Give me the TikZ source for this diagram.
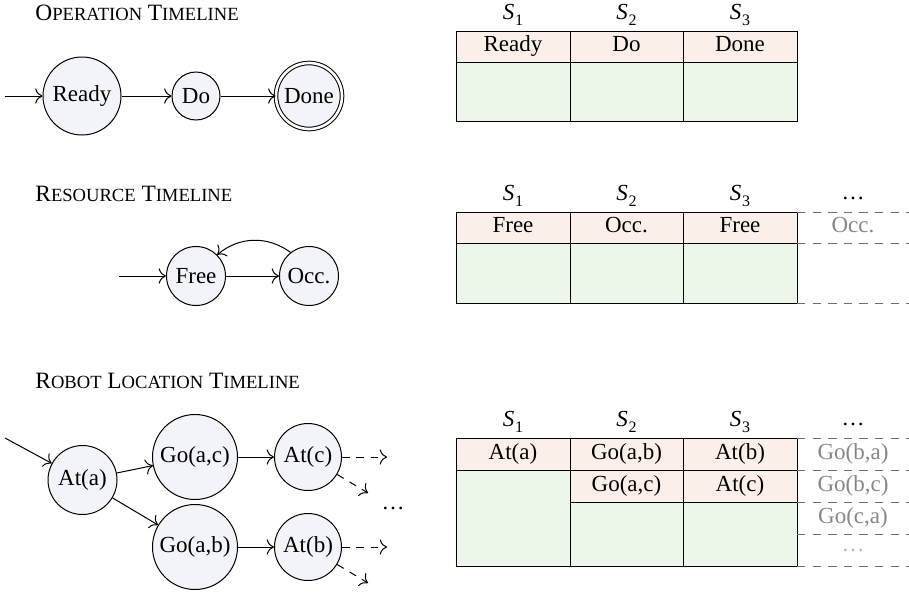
\documentclass[tikz,border=0pt]{standalone}
\usepackage{fontspec}
\setmainfont{Liberation Serif}
\usetikzlibrary{arrows.meta}
\definecolor{peach}{RGB}{251,240,233}
\definecolor{mint}{RGB}{236,247,234}
\definecolor{lav}{RGB}{243,244,250}
\definecolor{ghost}{RGB}{135,135,135}
\definecolor{dashgray}{RGB}{110,110,110}
\newcommand\fsc[1]{{\fontsize{9.3}{10}\selectfont #1}}
\newcommand\bcap[1]{{\fontsize{11.7}{13}\selectfont #1}}
\newcommand\Sl[1]{\textit{S}\kern0.3pt\raisebox{-0.5ex}{\fontsize{8}{9}\selectfont #1}}
\begin{document}
\begin{tikzpicture}[x=0.5pt,y=-0.5pt,
  >={To[scale=1.35]},
  every node/.style={font=\fontsize{11.5}{13}\selectfont},
  state/.style={circle,draw,fill=lav,inner sep=0pt,line width=0.5pt},
  edge/.style={->,line width=0.5pt},
  dedge/.style={->,line width=0.5pt,dash pattern=on 3.8pt off 3.4pt},
  cell/.style={inner sep=0pt,text height=1.5ex,text depth=0.45ex},
  ghostcell/.style={cell,text=ghost},
  title/.style={anchor=base west,inner sep=0pt},
  tline/.style={line width=0.5pt},
  xline/.style={line width=0.5pt,draw=dashgray,dash pattern=on 4.2pt off 3.6pt}
]
\useasboundingbox (0,0) rectangle (909,594);

% ---------------- Operation timeline ----------------
\node[title] (t1) at (35,20) {\bcap{O}\fsc{PERATION} \bcap{T}\fsc{IMELINE}};
\node[state,minimum size=39pt] (ready) at (82,96) {Ready};
\node[state,minimum size=24pt] (do) at (196,96) {Do};
\node[state,minimum size=33pt,double,double distance=1.3pt] (done) at (309,96) {Done};
\coordinate (i1) at (5,96);
\draw[edge] (i1) -- (ready);
\draw[edge] (ready) -- (do);
\draw[edge] (do) -- (done);

\fill[peach] (456,31) rectangle (797,62);
\fill[mint] (456,62) rectangle (797,121);
\draw[tline] (456,31) rectangle (797,121);
\draw[tline] (456,62) -- (797,62);
\draw[tline] (570,31) -- (570,121);
\draw[tline] (683.5,31) -- (683.5,121);
\node (a1) at (513,15) {\Sl{1}};
\node (a2) at (626.5,15) {\Sl{2}};
\node (a3) at (740,15) {\Sl{3}};
\node[cell] (b1) at (513,47) {Ready};
\node[cell] (b2) at (626.5,47) {Do};
\node[cell] (b3) at (740,47) {Done};

% ---------------- Resource timeline ----------------
\node[title] (t2) at (35,201) {\bcap{R}\fsc{ESOURCE} \bcap{T}\fsc{IMELINE}};
\node[state,minimum size=29.5pt] (free) at (196,276) {Free};
\node[state,minimum size=29.5pt] (occ) at (309,276) {Occ.};
\coordinate (i2) at (119,276);
\draw[edge] (i2) -- (free);
\draw[edge] (free) -- (occ);
\draw[edge] (occ.128) to[bend right=38] (free.45);

\fill[peach] (456,212) rectangle (797,243);
\fill[mint] (456,243) rectangle (797,303);
\draw[tline] (456,212) rectangle (797,303);
\draw[tline] (456,243) -- (797,243);
\draw[tline] (570,212) -- (570,303);
\draw[tline] (683.5,212) -- (683.5,303);
\draw[xline] (797,212) -- (909,212);
\draw[xline] (797,243) -- (909,243);
\draw[xline] (797,303) -- (909,303);
\node (c1) at (513,196) {\Sl{1}};
\node (c2) at (626.5,196) {\Sl{2}};
\node (c3) at (740,196) {\Sl{3}};
\node (c4) at (853,198) {\dots};
\node[cell] (d1) at (513,228) {Free};
\node[cell] (d2) at (626.5,228) {Occ.};
\node[cell] (d3) at (740,228) {Free};
\node[ghostcell] (d4) at (853,228) {Occ.};

% ---------------- Robot location timeline ----------------
\node[title] (t3) at (35,388) {\bcap{R}\fsc{OBOT} \bcap{L}\fsc{OCATION} \bcap{T}\fsc{IMELINE}};
\node[state,minimum size=34.5pt] (ata) at (82.5,480) {At(a)};
\node[state,minimum size=42.5pt] (goac) at (195,457) {Go(a,c)};
\node[state,minimum size=42.5pt] (goab) at (195,547) {Go(a,b)};
\node[state,minimum size=33.5pt] (atc) at (308,457) {At(c)};
\node[state,minimum size=33.5pt] (atb) at (308,547) {At(b)};
\coordinate (i3) at (5,438);
\coordinate (ec1) at (387,457);
\coordinate (ec2) at (368,493);
\coordinate (eb1) at (387,547);
\coordinate (eb2) at (368,583);
\draw[edge] (i3) -- (ata);
\draw[edge] (ata) -- (goac);
\draw[edge] (ata) -- (goab);
\draw[edge] (goac) -- (atc);
\draw[edge] (goab) -- (atb);
\draw[dedge] (atc) -- (ec1);
\draw[dedge] (atc) -- (ec2);
\draw[dedge] (atb) -- (eb1);
\draw[dedge] (atb) -- (eb2);
\node (rdots) at (393,508) {\dots};

\fill[peach] (456,438) rectangle (797,470);
\fill[peach] (570,470) rectangle (797,502);
\fill[mint] (456,470) rectangle (570,566);
\fill[mint] (570,502) rectangle (797,566);
\draw[tline] (456,438) rectangle (797,566);
\draw[tline] (456,470) -- (797,470);
\draw[tline] (570,502) -- (797,502);
\draw[tline] (570,438) -- (570,566);
\draw[tline] (683.5,438) -- (683.5,566);
\draw[xline] (797,438) -- (909,438);
\draw[xline] (797,470) -- (909,470);
\draw[xline] (797,502) -- (909,502);
\draw[xline] (797,534) -- (909,534);
\draw[xline] (797,566) -- (909,566);
\node (e1) at (513,422) {\Sl{1}};
\node (e2) at (626.5,422) {\Sl{2}};
\node (e3) at (740,422) {\Sl{3}};
\node (e4) at (853,424) {\dots};
\node[cell] (f1) at (513,454.5) {At(a)};
\node[cell] (f2) at (626.5,454.5) {Go(a,b)};
\node[cell] (f3) at (740,454.5) {At(b)};
\node[ghostcell] (f4) at (853,454.5) {Go(b,a)};
\node[cell] (g2) at (626.5,486.5) {Go(a,c)};
\node[cell] (g3) at (740,486.5) {At(c)};
\node[ghostcell] (g4) at (853,486.5) {Go(b,c)};
\node[ghostcell] (h4) at (853,518.5) {Go(c,a)};
\node[ghostcell,text=ghost!60] (k4) at (853,547) {\dots};
\end{tikzpicture}
\end{document}
